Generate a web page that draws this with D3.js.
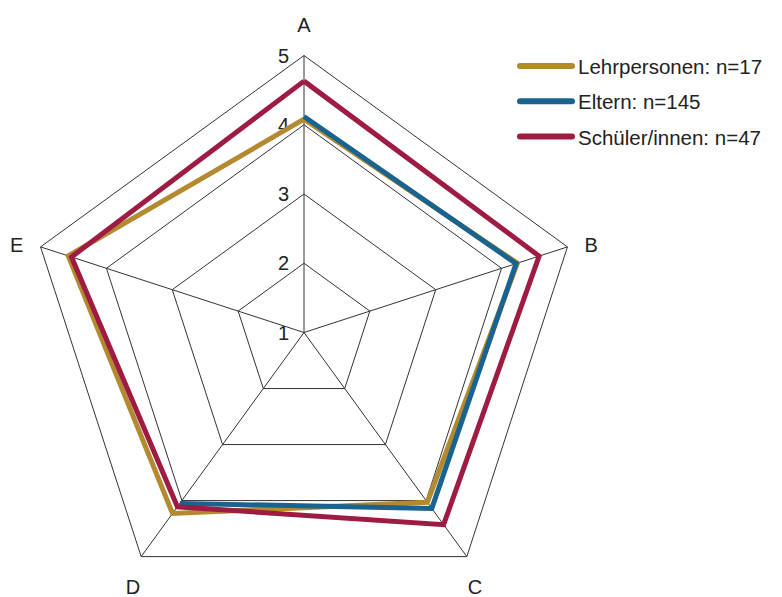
<!DOCTYPE html>
<html>
<head>
<meta charset="utf-8">
<script src="https://cdn.jsdelivr.net/npm/d3@7"></script>
<style>
  html, body { margin: 0; padding: 0; background: #fff; }
  svg text { font-family: "Liberation Sans", Arial, sans-serif; fill: #222; }
</style>
</head>
<body>
<svg id="chart" width="782" height="597"></svg>
<script>
// Axes of the radar (clockwise from the top)
const axes = ["A", "B", "C", "D", "E"];
// Rating scale ticks
const ticks = [1, 2, 3, 4, 5];

// Mean ratings per group, in axis order A..E (null = no value)
const lehrpersonen = [4.08, 4.24, 4.03, 4.23, 4.58];
const eltern       = [4.12, 4.22, 4.14, 4.05, null];
const schueler     = [4.63, 4.57, 4.43, 4.11, 4.53];

const seriesNames  = ["Lehrpersonen: n=17", "Eltern: n=145", "Schüler/innen: n=47"];
const seriesColors = ["#B38A2F", "#18638F", "#9E1B42"];

const series = [
  { name: seriesNames[0], values: lehrpersonen, color: seriesColors[0] },
  { name: seriesNames[1], values: eltern,       color: seriesColors[1] },
  { name: seriesNames[2], values: schueler,     color: seriesColors[2] }
];

const svg = d3.select("#chart");
const cx = 304, cy = 332.5, R = 277;

const r = d3.scaleLinear().domain([1, 5]).range([0, R]);
const angle = d3.scalePoint().domain(axes).range([0, 2 * Math.PI * (axes.length - 1) / axes.length]);
const ang = a => angle(a) - Math.PI / 2;
const pt = (a, v) => [cx + r(v) * Math.cos(ang(a)), cy + r(v) * Math.sin(ang(a))];

const grid = svg.append("g");

// Concentric pentagons
ticks.slice(1).forEach(t => {
  grid.append("polygon")
    .attr("points", axes.map(a => pt(a, t).join(",")).join(" "))
    .attr("fill", "none")
    .attr("stroke", "#333")
    .attr("stroke-width", 1);
});

// Spokes
axes.forEach(a => {
  const [x, y] = pt(a, 5);
  grid.append("line")
    .attr("x1", cx).attr("y1", cy).attr("x2", x).attr("y2", y)
    .attr("stroke", "#333").attr("stroke-width", 1);
});

// Scale labels along axis A
svg.append("g").selectAll("text").data(ticks).join("text")
  .attr("x", cx - 15)
  .attr("y", d => cy - r(d))
  .attr("text-anchor", "end")
  .attr("dominant-baseline", "central")
  .attr("font-size", 20)
  .text(d => d);

// Axis labels, pushed out from the outer vertices
const labelPos = a => {
  const [vx, vy] = pt(a, 5);
  const c = Math.cos(ang(a)), s = Math.sin(ang(a));
  const x = vx + c * (Math.abs(c) > 0.9 ? 25 : 14);
  const y = vy + (s > 0.5 ? 30 : s < -0.9 ? -31 : -2);
  return [x, y];
};
svg.append("g").selectAll("text").data(axes).join("text")
  .attr("x", a => labelPos(a)[0])
  .attr("y", a => labelPos(a)[1])
  .attr("text-anchor", "middle")
  .attr("dominant-baseline", "central")
  .attr("font-size", 20)
  .text(a => a);

// Series lines (closed around the radar, broken where a value is missing)
const line = d3.line().defined(d => d[2] != null);
series.forEach(s => {
  const pts = axes.map((a, i) => [...pt(a, s.values[i] ?? 1), s.values[i]]);
  pts.push(pts[0]);
  svg.append("path")
    .attr("d", line(pts))
    .attr("fill", "none")
    .attr("stroke", s.color)
    .attr("stroke-width", 5)
    .attr("stroke-linejoin", "miter");
});

// Legend
const legend = svg.append("g");
series.forEach((s, i) => {
  const y = 66 + i * 35.3;
  legend.append("line")
    .attr("x1", 520).attr("x2", 572).attr("y1", y).attr("y2", y)
    .attr("stroke", s.color).attr("stroke-width", 6).attr("stroke-linecap", "round");
  legend.append("text")
    .attr("x", 578).attr("y", y + 8)
    .attr("font-size", 20.5)
    .text(s.name);
});
</script>
</body>
</html>
